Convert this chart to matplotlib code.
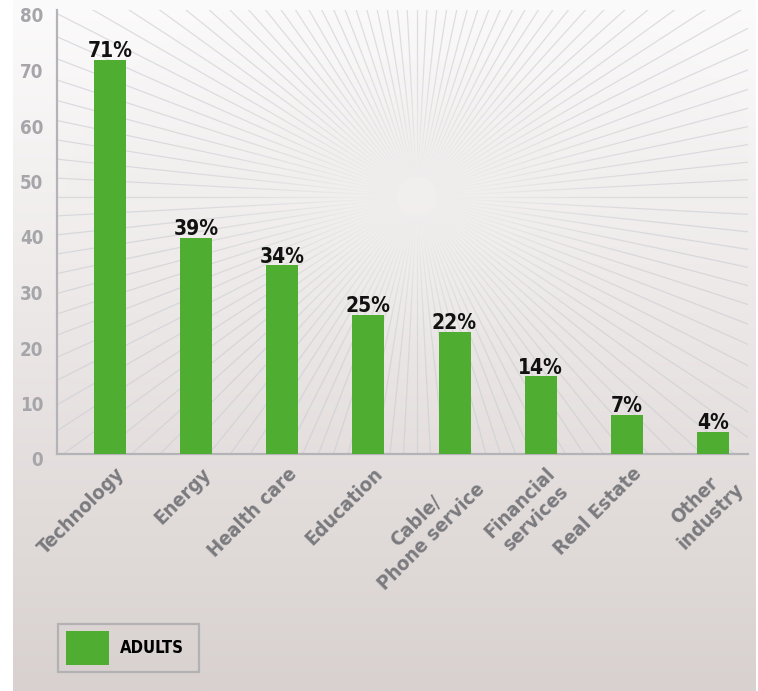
import numpy as np
import matplotlib
matplotlib.use("Agg")
import matplotlib.pyplot as plt
from matplotlib.collections import LineCollection
from matplotlib.transforms import ScaledTranslation

plt.rcParams['font.family'] = ['DejaVu Sans']
plt.rcParams['font.stretch'] = 'condensed'

# ===== データ =====
categories = ["Technology", "Energy", "Health care", "Education",
              "Cable/\nPhone service", "Financial\nservices", "Real Estate",
              "Other\nindustry"]
values = [71, 39, 34, 25, 22, 14, 7, 4]
yticks = [0, 10, 20, 30, 40, 50, 60, 70, 80]
series_name = "ADULTS"

GREEN = "#4fae32"
W, H = 758, 691

fig = plt.figure(figsize=(W / 100, H / 100), dpi=100)
fig.patch.set_facecolor("white")

# ===== 背景グラデーション =====
top_c = np.array([252, 251, 251]) / 255
bot_c = np.array([216, 209, 207]) / 255
t = np.linspace(0, 1, 256)[:, None]
grad = top_c + (bot_c - top_c) * t
bg = fig.add_axes([13 / W, 0, 743 / W, 1])
bg.imshow(grad[:, None, :], aspect="auto")
bg.axis("off")

# ===== 放射線 =====
ax_pos = [57 / W, 1 - 454 / H, 691 / W, 444 / H]
rays = fig.add_axes(ax_pos)
rays.axis("off")
cx, cy = 417, 197
ang = np.deg2rad(np.arange(0, 360, 3))
segs = [[(cx + 20 * np.cos(a), cy + 20 * np.sin(a)),
         (cx + 900 * np.cos(a), cy + 900 * np.sin(a))] for a in ang]
rays.add_collection(LineCollection(segs, colors="#c9cbd2", alpha=0.6, linewidths=0.9))
gx, gy = np.meshgrid(np.arange(57, 748), np.arange(10, 454))
r2 = ((gx - cx) / 150) ** 2 + ((gy - cy) / 95) ** 2
glow = np.zeros(gx.shape + (4,))
glow[..., :3] = top_c + (bot_c - top_c) * (cy / H)
glow[..., 3] = 0.95 * np.exp(-r2)
rays.imshow(glow, extent=[57, 748, 454, 10], aspect="auto", zorder=3)
rays.set_xlim(57, 748)
rays.set_ylim(454, 10)

# ===== 棒グラフ =====
ax = fig.add_axes(ax_pos)
ax.patch.set_alpha(0)
x = np.arange(len(categories))
bars = ax.bar(x, values, width=0.372, color=GREEN, label=series_name, zorder=3)
ax.set_xlim(-0.615, 7.407)
ax.set_ylim(0, 80)
ax.set_xticks([])
ax.set_yticks(yticks)
ax.tick_params(axis="y", length=0, pad=10, labelsize=13.5, labelcolor="#a6a6aa")
shift = ScaledTranslation(0, -5 / 100, fig.dpi_scale_trans)
for lab in ax.get_yticklabels():
    lab.set_fontweight("bold")
    lab.set_transform(lab.get_transform() + shift)
for s in ["top", "right"]:
    ax.spines[s].set_visible(False)
for s in ["left", "bottom"]:
    ax.spines[s].set_color("#b4b4b8")
    ax.spines[s].set_linewidth(1.6)

for xi, v in zip(x, values):
    ax.annotate(f"{v}%", (xi, v), xytext=(0, 2), textcoords="offset points",
                ha="center", va="baseline", fontsize=15, fontweight="bold",
                color="#111111")

lab_trans = ax.get_xaxis_transform() + ScaledTranslation(5 / 100, -10 / 100, fig.dpi_scale_trans)
for xi, name in zip(x, categories):
    ax.text(xi, 0, name, transform=lab_trans, rotation=45, rotation_mode="anchor",
            ha="right", va="top", multialignment="center", fontsize=14.5,
            fontweight="bold", color="#7b7b7f")

# ===== 凡例 =====
leg = ax.legend(handles=[bars], labels=[series_name], loc="lower left",
                bbox_to_anchor=(58 / W, 1 - 672 / H, 141 / W, 60 / H),
                bbox_transform=fig.transFigure, mode="expand",
                frameon=True, fancybox=False, borderaxespad=0,
                prop={"weight": "bold", "size": 12},
                handlelength=2.58, handleheight=2.7, borderpad=0.45,
                handletextpad=0.7)
leg.get_frame().set_edgecolor("#a9a9ad")
leg.get_frame().set_linewidth(1.6)
leg.get_frame().set_facecolor("none")

plt.savefig("out.png", dpi=100)
